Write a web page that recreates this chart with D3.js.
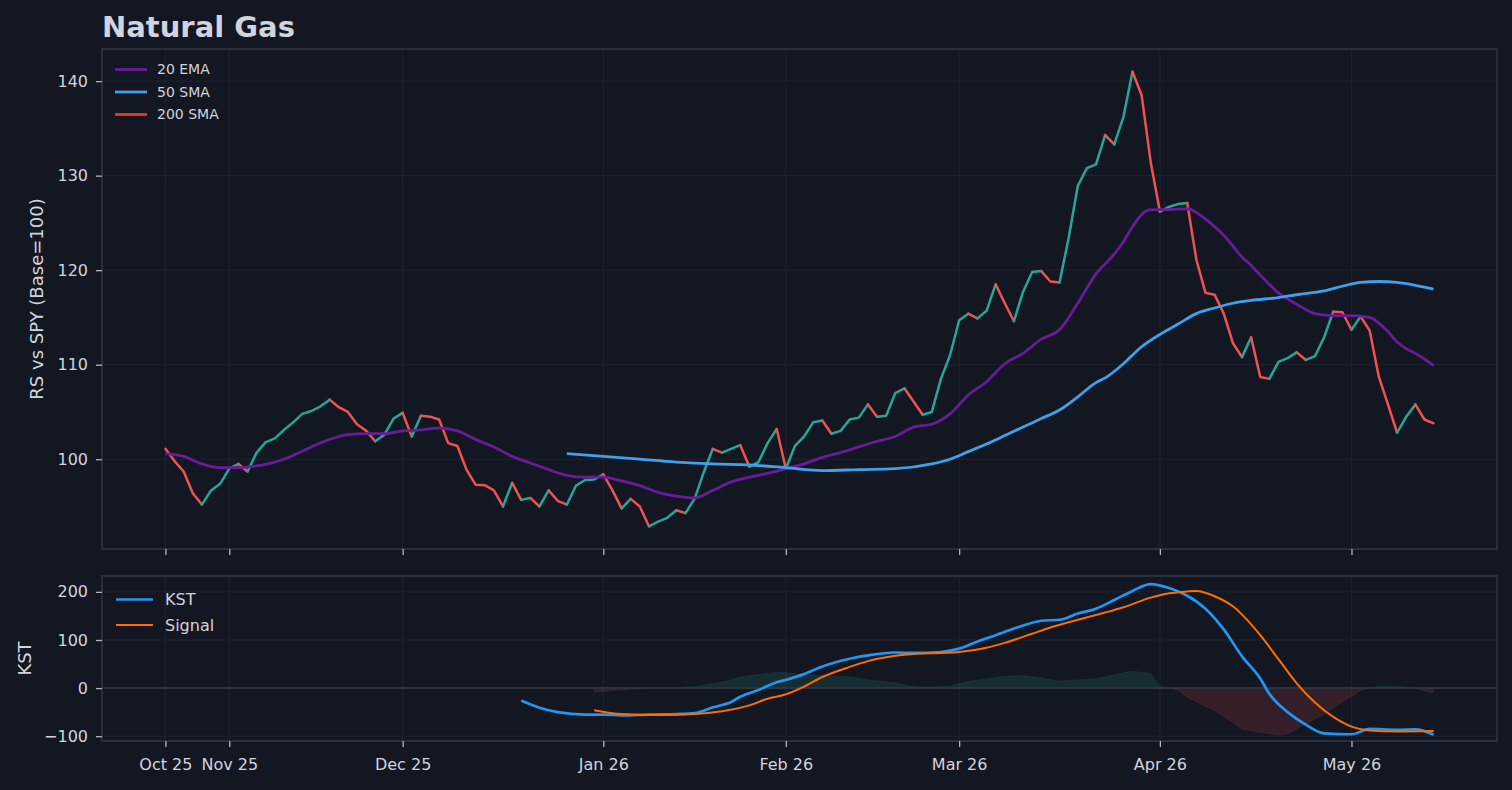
<!DOCTYPE html>
<html><head><meta charset="utf-8">
<script src="https://cdn.jsdelivr.net/npm/d3@7"></script>
<style>
html,body{margin:0;padding:0;background:#131722;}
svg{display:block;}
text{font-family:"DejaVu Sans",sans-serif;}
</style></head><body>
<svg id="c" width="1512" height="790"></svg>
<script>
// ---------- DATA ----------
const tickLabels = ["Oct 25","Nov 25","Dec 25","Jan 26","Feb 26","Mar 26","Apr 26","May 26"];
const tickIdx    = [0, 7, 26, 48, 68, 87, 109, 130];
const yTicksMain = [100, 110, 120, 130, 140];
const yTicksKst  = [-100, 0, 100, 200];

// RS vs SPY, one value per trading day (index 0..139)
const price = [
 101.1, 99.8, 98.7, 96.4, 95.2, 96.7, 97.4, 99.0, 99.5, 98.7,
 100.7,101.8,102.2,103.1,103.9,104.8,105.1,105.6,106.3,105.5,
 105.0,103.7,103.0,101.9,102.6,104.3,104.9,102.4,104.6,104.5,
 104.2,101.7,101.4, 98.9, 97.3, 97.25,96.7, 95.0, 97.5, 95.7,
  95.9, 95.0, 96.7, 95.6, 95.2, 97.2, 97.8, 97.85,98.4, 96.7,
  94.8, 95.8, 95.0, 92.9, 93.4, 93.8, 94.6, 94.3, 95.8, 98.6,
 101.1,100.7,101.1,101.5, 99.2, 99.7,101.7,103.2, 99.0,101.4,
 102.4,103.9,104.1,102.7,103.0,104.2,104.4,105.8,104.5,104.6,
 107.0,107.5,106.1,104.7,105.0,108.5,111.0,114.7,115.4,114.9,
 115.7,118.5,116.5,114.6,117.7,119.8,119.9,118.8,118.7,123.4,
 128.9,130.8,131.2,134.3,133.3,136.2,141.0,138.5,131.4,126.2,
 126.7,127.0,127.1,121.1,117.6,117.4,115.4,112.3,110.8,112.9,
 108.7,108.5,110.3,110.7,111.3,110.5,110.9,112.9,115.6,115.55,
 113.7,115.1,113.6,108.7,105.8,102.8,104.5,105.8,104.2,103.8
];

// 20 EMA (index, value)
const emaIdx = [0,2,4,6,8,10,12,14,16,18,20,22,24,26,28,30,32,34,36,38,40,42,44,46,48,50,52,54,56,58,60,62,64,66,68,70,72,74,76,78,80,82,84,86,88,90,92,94,96,98,100,102,104,105,106,107,108,110,112,113,114,116,118,119,120,122,124,126,128,130,132,133,134,135,136,137,138,139];
const emaVal = [100.6,100.3,99.5,99.1,99.1,99.3,99.7,100.4,101.3,102.1,102.6,102.7,102.7,103.0,103.1,103.3,103.0,102.1,101.3,100.3,99.6,98.9,98.3,98.1,98.1,97.7,97.2,96.5,96.1,95.9,96.7,97.6,98.1,98.5,99.0,99.5,100.2,100.7,101.3,101.9,102.4,103.4,103.7,104.8,106.8,108.2,110.1,111.2,112.7,113.7,116.5,119.6,121.7,123.0,124.6,125.9,126.4,126.4,126.5,126.1,125.4,123.7,121.4,120.5,119.5,117.6,116.4,115.4,115.2,115.2,115.0,114.4,113.5,112.4,111.7,111.2,110.6,109.9];

// 50 SMA (index, value)
const smaIdx = [44,48,52,56,60,64,68,72,76,80,84,86,88,90,92,94,96,98,100,102,103,105,107,109,111,113,115,117,119,122,124,127,129,131,133,135,137,139];
const smaVal = [100.6,100.3,100.0,99.7,99.5,99.4,99.1,98.8,98.9,99.0,99.5,100.0,100.8,101.6,102.5,103.4,104.3,105.2,106.6,108.1,108.6,110.1,111.9,113.2,114.3,115.4,116.0,116.5,116.8,117.1,117.4,117.8,118.3,118.7,118.8,118.7,118.4,118.0];

// KST (index, value)
const kstIdx = [39,41,43,46,48,50,53,56,58,60,62,63,65,67,68,70,72,75,77,80,82,85,87,89,91,94,96,98,100,102,104,106,108,110,112,114,116,118,120,121,123,125,127,130,132,135,137,139];
const kstVal = [-26,-41,-50,-55,-55,-57,-55,-54,-52,-40,-29,-18,-4,12,17,29,45,61,68,74,73,75,82,97,110,130,140,142,155,165,183,202,216,208,192,165,122,66,20,-12,-50,-76,-94,-96,-85,-87,-86,-97];

// Signal (index, value)
const sigIdx = [47,50,54,58,61,64,66,68,70,72,75,77,80,82,85,87,90,92,95,97,100,103,105,108,110,112,113,115,117,120,122,124,126,128,130,132,135,139];
const sigVal = [-46,-54,-56,-54,-48,-36,-22,-13,3,23,44,56,67,71,73,75,84,94,113,126,142,157,168,188,197,201,202,191,170,110,60,10,-30,-60,-80,-88,-90,-89];

// Histogram (index, value)
const histIdx = [47,49,51,54,56,58,61,63,65,67,68,70,72,75,77,80,82,84,86,88,90,92,94,96,98,100,102,104,106,108,109,110,111,112,115,117,118,120,122,123,125,127,129,131,132,133,135,137,138,139];
const histVal = [-8,-5,-2,0,1,3,12,23,28,33,32,28,26,23,17,11,3,2,4,14,19,24,26,21,14,17,19,28,35,30,4,0,-4,-19,-47,-71,-85,-92,-97,-95,-74,-54,-29,-5,0,4,3,1,-6,-10];

// ---------- LAYOUT ----------
const W=1512,H=790;
const L=102,R=1497,T1=49,B1=549,T2=576,B2=741;
const BG="#131722", SPINE="#2a2e39", GRID="#1f232e", TXT="#d1d4dc", TICK="#b2b5be";
const UP="#26a69a", DOWN="#ef5350";

const svg=d3.select("#c");
svg.append("rect").attr("width",W).attr("height",H).attr("fill",BG);

const x=d3.scaleLinear().domain([-6.95,145.95]).range([L,R]);
const y1=d3.scaleLinear().domain([90.5,143.4]).range([B1,T1]);
const y2=d3.scaleLinear().domain([-110,233]).range([B2,T2]);

const defs=svg.append("defs");
defs.append("clipPath").attr("id","cp1").append("rect").attr("x",L).attr("y",T1).attr("width",R-L).attr("height",B1-T1);
defs.append("clipPath").attr("id","cp2").append("rect").attr("x",L).attr("y",T2).attr("width",R-L).attr("height",B2-T2);

function drawGrid(yS, yt, top, bottom){
  const g=svg.append("g");
  g.selectAll("line.h").data(yt).join("line").attr("class","h")
    .attr("x1",L).attr("x2",R).attr("y1",d=>yS(d)).attr("y2",d=>yS(d))
    .attr("stroke",GRID).attr("stroke-width",1);
  g.selectAll("line.v").data(tickIdx).join("line").attr("class","v")
    .attr("x1",d=>x(d)).attr("x2",d=>x(d)).attr("y1",top).attr("y2",bottom)
    .attr("stroke",GRID).attr("stroke-width",1);
}
drawGrid(y1,yTicksMain,T1,B1);
drawGrid(y2,yTicksKst,T2,B2);

// ---------- MAIN PANEL ----------
const p1=svg.append("g").attr("clip-path","url(#cp1)");
// price, coloured by direction
const runs=[]; let cur=null;
for(let i=0;i<price.length-1;i++){
  const up=price[i+1]>=price[i];
  if(!cur||cur.up!==up){cur={up:up,pts:[[i,price[i]]]};runs.push(cur);}
  cur.pts.push([i+1,price[i+1]]);
}
const lineP=d3.line().x(d=>x(d[0])).y(d=>y1(d[1]));
p1.selectAll("path.pr").data(runs).join("path").attr("class","pr")
  .attr("d",d=>lineP(d.pts)).attr("fill","none")
  .attr("stroke",d=>d.up?UP:DOWN).attr("stroke-width",2.5)
  .attr("stroke-linejoin","round").attr("stroke-linecap","round");

const ema=emaIdx.map((d,i)=>[d,emaVal[i]]);
const sma=smaIdx.map((d,i)=>[d,smaVal[i]]);
const smooth=d3.line().x(d=>x(d[0])).y(d=>y1(d[1])).curve(d3.curveMonotoneX);
p1.append("path").attr("d",smooth(ema)).attr("fill","none").attr("stroke","#6a1b9a").attr("stroke-width",2.8).attr("stroke-linejoin","round");
p1.append("path").attr("d",smooth(sma)).attr("fill","none").attr("stroke","#3fa0eb").attr("stroke-width",2.8).attr("stroke-linejoin","round");

// ---------- KST PANEL ----------
const p2=svg.append("g").attr("clip-path","url(#cp2)");
const hist=histIdx.map((d,i)=>[d,histVal[i]]);
const areaPos=d3.area().x(d=>x(d[0])).y0(y2(0)).y1(d=>y2(Math.max(0,d[1])));
const areaNeg=d3.area().x(d=>x(d[0])).y0(y2(0)).y1(d=>y2(Math.min(0,d[1])));
p2.append("path").attr("d",areaPos(hist)).attr("fill",UP).attr("fill-opacity",0.15).attr("stroke",UP).attr("stroke-opacity",0.12).attr("stroke-width",1);
p2.append("path").attr("d",areaNeg(hist)).attr("fill",DOWN).attr("fill-opacity",0.15).attr("stroke",DOWN).attr("stroke-opacity",0.12).attr("stroke-width",1);
p2.append("line").attr("x1",L).attr("x2",R).attr("y1",y2(0)).attr("y2",y2(0)).attr("stroke","#2f333e").attr("stroke-width",2);

const kst=kstIdx.map((d,i)=>[d,kstVal[i]]);
const sig=sigIdx.map((d,i)=>[d,sigVal[i]]);
const smooth2=d3.line().x(d=>x(d[0])).y(d=>y2(d[1])).curve(d3.curveMonotoneX);
p2.append("path").attr("d",smooth2(kst)).attr("fill","none").attr("stroke","#2196f3").attr("stroke-width",2.7);
p2.append("path").attr("d",smooth2(sig)).attr("fill","none").attr("stroke","#ff6d00").attr("stroke-width",2);

// ---------- SPINES ----------
[[T1,B1],[T2,B2]].forEach(([t,b])=>{
  svg.append("rect").attr("x",L).attr("y",t).attr("width",R-L).attr("height",b-t)
    .attr("fill","none").attr("stroke",SPINE).attr("stroke-width",2);
});

// ---------- AXES ----------
function styleAxis(g){
  g.select(".domain").remove();
  g.selectAll(".tick line").attr("stroke",TICK).attr("stroke-width",1.3);
  g.selectAll(".tick text").attr("fill",TXT).style("font-size","16px").style("font-family","DejaVu Sans");
}
svg.append("g").attr("transform",`translate(${L},0)`)
  .call(d3.axisLeft(y1).tickValues(yTicksMain).tickSize(6).tickPadding(8).tickFormat(d3.format("d")))
  .call(styleAxis);
svg.append("g").attr("transform",`translate(${L},0)`)
  .call(d3.axisLeft(y2).tickValues(yTicksKst).tickSize(6).tickPadding(8).tickFormat(d3.format("d")))
  .call(styleAxis);
svg.append("g").attr("transform",`translate(0,${B1})`)
  .call(d3.axisBottom(x).tickValues(tickIdx).tickSize(6).tickFormat(""))
  .call(styleAxis);
svg.append("g").attr("transform",`translate(0,${B2})`)
  .call(d3.axisBottom(x).tickValues(tickIdx).tickSize(6).tickPadding(12).tickFormat((d,i)=>tickLabels[i]))
  .call(styleAxis);

// ---------- LABELS ----------
svg.append("text").attr("x",102).attr("y",37).text("Natural Gas")
  .attr("fill",TXT).style("font-size","29px").style("font-weight","bold");
svg.append("text").attr("transform",`translate(37,${(T1+B1)/2}) rotate(-90)`).attr("dy","0.35em")
  .attr("text-anchor","middle").attr("fill",TXT).style("font-size","18px").text("RS vs SPY (Base=100)");
svg.append("text").attr("transform",`translate(25,${(T2+B2)/2}) rotate(-90)`).attr("dy","0.35em")
  .attr("text-anchor","middle").attr("fill",TXT).style("font-size","18px").text("KST");

// legends
const leg1=[{t:"20 EMA",c:"#6a1b9a"},{t:"50 SMA",c:"#3fa0eb"},{t:"200 SMA",c:"#e53935"}];
leg1.forEach((d,i)=>{
  const yy=69.5+i*22.5;
  svg.append("line").attr("x1",115).attr("x2",147).attr("y1",yy).attr("y2",yy).attr("stroke",d.c).attr("stroke-width",2.8);
  svg.append("text").attr("x",157).attr("y",yy).attr("dy","0.35em").attr("fill",TXT).style("font-size","14px").text(d.t);
});
const leg2=[{t:"KST",c:"#2196f3",w:2.7},{t:"Signal",c:"#ff6d00",w:2}];
leg2.forEach((d,i)=>{
  const yy=599.5+i*25.5;
  svg.append("line").attr("x1",116).attr("x2",153).attr("y1",yy).attr("y2",yy).attr("stroke",d.c).attr("stroke-width",d.w);
  svg.append("text").attr("x",165).attr("y",yy).attr("dy","0.35em").attr("fill",TXT).style("font-size","16px").text(d.t);
});
</script>
</body></html>
